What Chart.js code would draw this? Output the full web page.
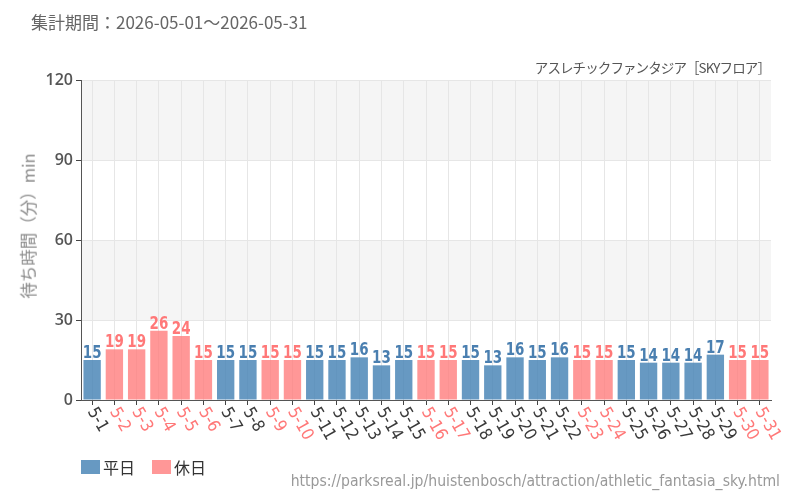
<!DOCTYPE html>
<html lang="ja">
<head>
<meta charset="utf-8">
<script src="https://cdn.jsdelivr.net/npm/chart.js@4.4.1/dist/chart.umd.min.js"></script>
<style>
  html, body { margin: 0; padding: 0; background: #fff; }
  #wrap { position: relative; width: 800px; height: 500px; overflow: hidden; font-family: "Noto Sans CJK JP", "Noto Sans", sans-serif; }
  #chart { position: absolute; left: 0; top: 0; }
  .txt { position: absolute; white-space: nowrap; line-height: 1; }
  #period { left: 31px; top: 13px; font-size: 17px; color: #666; }
  #subtitle { right: 30px; top: 61px; font-size: 13.5px; letter-spacing: -0.9px; color: #555; }
  #ytitle { left: 28px; top: 226px; font-size: 16.5px; color: #888; transform: translate(-50%, -50%) rotate(-90deg); }
  #legend { left: 81px; top: 459px; font-size: 16px; color: #333; display: flex; align-items: center; }
  #legend .sw { display: inline-block; width: 19px; height: 14px; margin-right: 3px; }
  #legend .item { display: flex; align-items: center; margin-right: 17px; }
  #url { right: 20px; top: 474px; font-size: 15.6px; color: #999; font-family: "Liberation Sans Narrow", "DejaVu Sans Condensed", sans-serif; }
</style>
</head>
<body>
<div id="wrap">
  <canvas id="chart" width="800" height="500"></canvas>
  <div class="txt" id="period">集計期間：2026-05-01～2026-05-31</div>
  <div class="txt" id="subtitle">アスレチックファンタジア［SKYフロア］</div>
  <div class="txt" id="ytitle">待ち時間（分）min</div>
  <div class="txt" id="legend"></div>
  <div class="txt" id="url">https://parksreal.jp/huistenbosch/attraction/athletic_fantasia_sky.html</div>
</div>
<script>
// ---------- Data ----------
const dates = ["5-1","5-2","5-3","5-4","5-5","5-6","5-7","5-8","5-9","5-10",
  "5-11","5-12","5-13","5-14","5-15","5-16","5-17","5-18","5-19","5-20",
  "5-21","5-22","5-23","5-24","5-25","5-26","5-27","5-28","5-29","5-30","5-31"];
const waitTimes = [15,19,19,26,24,15,15,15,15,15,
  15,15,16,13,15,15,15,15,13,16,
  15,16,15,15,15,14,14,14,17,15,15];
const dayTypes = ["平日","休日","休日","休日","休日","休日","平日","平日","休日","休日",
  "平日","平日","平日","平日","平日","休日","休日","平日","平日","平日",
  "平日","平日","休日","休日","平日","平日","平日","平日","平日","休日","休日"];
const seriesNames = ["平日", "休日"];
const yTicks = [0, 30, 60, 90, 120];

// ---------- Styles ----------
const barColors = { "平日": "rgba(70,130,180,0.82)", "休日": "rgba(255,122,122,0.78)" };
const labelColors = { "平日": "#4a7fb0", "休日": "#ff7878" };
const tickColors = { "平日": "#3a3a3a", "休日": "#ff7878" };

const datasets = seriesNames.map((name) => ({
  label: name,
  data: waitTimes.map((v, i) => dayTypes[i] === name ? v : null),
  backgroundColor: barColors[name],
  barPercentage: 0.78,
  categoryPercentage: 1.0
}));

// legend (html)
const legendEl = document.getElementById("legend");
seriesNames.forEach((name) => {
  const it = document.createElement("span");
  it.className = "item";
  it.innerHTML = `<span class="sw" style="background:${barColors[name]}"></span>${name}`;
  legendEl.appendChild(it);
});

// ---------- Plugins ----------
const bandPlugin = {
  id: "bands",
  beforeDraw(chart) {
    const { ctx, chartArea: a, scales: { y } } = chart;
    ctx.save();
    ctx.fillStyle = "#f5f5f5";
    for (let i = 1; i < yTicks.length; i += 2) {
      const top = y.getPixelForValue(yTicks[i + 1] ?? yTicks[i]);
      const bot = y.getPixelForValue(yTicks[i]);
      ctx.fillRect(a.left, top, a.right - a.left, bot - top);
    }
    ctx.restore();
  }
};

// condensed look: narrow font, a little squeezed
const valueLabelPlugin = {
  id: "valueLabels",
  afterDatasetsDraw(chart) {
    const { ctx } = chart;
    ctx.save();
    ctx.font = "bold 17px 'Liberation Sans Narrow', 'DejaVu Sans Condensed', sans-serif";
    ctx.textAlign = "center";
    ctx.textBaseline = "alphabetic";
    chart.data.datasets.forEach((ds, di) => {
      const meta = chart.getDatasetMeta(di);
      meta.data.forEach((bar, i) => {
        const v = ds.data[i];
        if (v == null) return;
        ctx.save();
        ctx.translate(bar.x, bar.y - 2);
        ctx.scale(0.88, 1);
        ctx.fillStyle = labelColors[ds.label];
        ctx.fillText(String(v), 0, 0);
        ctx.restore();
      });
    });
    ctx.restore();
  }
};

const xTickPlugin = {
  id: "xTicks",
  afterDraw(chart) {
    const { ctx, scales: { x } } = chart;
    ctx.save();
    ctx.font = "17px 'Liberation Sans Narrow', 'DejaVu Sans Condensed', sans-serif";
    ctx.textAlign = "left";
    ctx.textBaseline = "middle";
    dates.forEach((d, i) => {
      const px = x.getPixelForTick(i);
      ctx.save();
      ctx.translate(px - 1, x.top + 9);
      ctx.rotate(Math.PI / 3);
      ctx.fillStyle = tickColors[dayTypes[i]];
      ctx.fillText(d, 0, 0);
      ctx.restore();
    });
    ctx.restore();
  }
};

// ---------- Chart ----------
new Chart(document.getElementById("chart").getContext("2d"), {
  type: "bar",
  data: { labels: dates, datasets },
  options: {
    responsive: false,
    animation: false,
    layout: { padding: { top: 80, right: 29, left: 0, bottom: 0 } },
    plugins: { legend: { display: false }, tooltip: { enabled: false } },
    scales: {
      x: {
        stacked: true,
        offset: true,
        grid: { color: "#e6e6e6", offset: false, tickColor: "#444", tickLength: 5 },
        border: { color: "#555" },
        ticks: { callback: () => "", autoSkip: false, maxRotation: 0 },
        afterFit: (s) => { s.height = 100; }
      },
      y: {
        stacked: true,
        min: 0, max: 120,
        afterBuildTicks: (s) => { s.ticks = yTicks.map((v) => ({ value: v })); },
        grid: { color: "#e6e6e6", tickColor: "#444", tickLength: 5 },
        border: { color: "#555" },
        ticks: { color: "#555", padding: 3, font: { family: "'Open Sans', sans-serif", size: 16, weight: "600" } },
        afterFit: (s) => { s.width = 81; }
      }
    }
  },
  plugins: [bandPlugin, valueLabelPlugin, xTickPlugin]
});
</script>
</body>
</html>
